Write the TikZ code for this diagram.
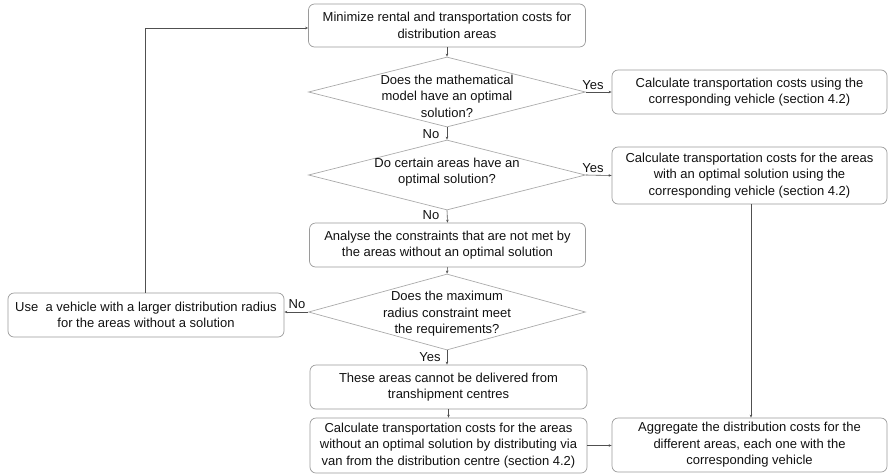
\documentclass[tikz,border=0pt]{standalone}
\usepackage{fontspec}
\setmainfont{Liberation Sans}
\usetikzlibrary{shapes.geometric,arrows.meta}
\definecolor{boxline}{HTML}{9A9A9A}
\definecolor{dialine}{HTML}{ABABAB}
\definecolor{arrline}{HTML}{505050}
\definecolor{txt}{HTML}{111111}
\begin{document}
\begin{tikzpicture}[x=1pt,y=-1pt,
  box/.style={draw=boxline,line width=0.7pt,rounded corners=6pt,align=center,
    font=\fontsize{13}{16.5}\selectfont,text=txt,inner sep=0pt},
  dia/.style={draw=dialine,line width=0.7pt,shape=diamond,inner sep=0pt,
    minimum width=277pt,minimum height=70pt},
  diatext/.style={align=center,font=\fontsize{13}{16.5}\selectfont,text=txt,inner sep=0pt},
  lbl/.style={font=\fontsize{13}{15}\selectfont,text=txt,inner sep=0pt},
  arr/.style={draw=arrline,line width=0.6pt,-{Stealth[length=3pt,width=2.5pt]}},
  ln/.style={draw=arrline,line width=0.6pt}]
\useasboundingbox (0,0) rectangle (888,475);
% boxes
\node[box,minimum width=277pt,minimum height=43pt] (b1) at (447,25.5)
  {Minimize rental and transportation costs for\\distribution areas};
\node[dia] (d1) at (447,92) {};
\node[diatext] (t1) at (447,96) {Does the mathematical\\model have an optimal\\solution?};
\node[box,minimum width=275pt,minimum height=44pt] (b2) at (749.5,92)
  {Calculate transportation costs using the\\corresponding vehicle (section 4.2)};
\node[dia] (d2) at (447,175) {};
\node[diatext] (t2) at (447,172) {Do certain areas have an\\optimal solution?};
\node[box,minimum width=275pt,minimum height=57pt] (b3) at (749.5,175.5)
  {Calculate transportation costs for the areas\\with an optimal solution using the\\corresponding vehicle (section 4.2)};
\node[box,minimum width=276pt,minimum height=44pt] (b4) at (447.5,245)
  {Analyse the constraints that are not met by\\the areas without an optimal solution};
\node[dia,minimum height=76pt] (d3) at (447,312) {};
\node[diatext] (t3) at (447,314) {Does the maximum\\radius constraint meet\\the requirements?};
\node[box,minimum width=276pt,minimum height=44pt] (b5) at (146,315)
  {Use\ \ a vehicle with a larger distribution radius\\for the areas without a solution};
\node[box,minimum width=277pt,minimum height=44pt] (b6) at (448.5,387)
  {These areas cannot be delivered from\\transhipment centres};
\node[box,minimum width=277pt,minimum height=55pt] (b7) at (448.5,445.5)
  {Calculate transportation costs for the areas\\without an optimal solution by distributing via\\van from the distribution centre (section 4.2)};
\node[box,minimum width=275pt,minimum height=54pt] (b8) at (749.5,445)
  {Aggregate the distribution costs for the\\different areas, each one with the\\corresponding vehicle};
% labels
\node[lbl] (y1) at (593,85) {Yes};
\node[lbl] (n1) at (431,134) {No};
\node[lbl] (y2) at (593,168) {Yes};
\node[lbl] (n2) at (431,215) {No};
\node[lbl] (n3) at (297,304) {No};
\node[lbl] (y3) at (430,357) {Yes};
% connectors
\draw[arr] (b1.south) -- (d1.north);
\draw[arr] (d1.east) -- (b2.west);
\draw[arr] (d1.south) -- (d2.north);
\draw[arr] (d2.east) -- (b3.west);
\draw[arr] (d2.south) -- (b4.north);
\draw[arr] (b4.south) -- (d3.north);
\draw[arr] (d3.west) -- (b5.east |- d3.west);
\coordinate (c1) at (145,28);
\draw[arr] (b5.north -| c1) -- (c1) -- (b1.west |- c1);
\draw[arr] (d3.south) -- (b6.north -| d3.south);
\draw[arr] (b6.south) -- (b7.north);
\draw[arr] (b7.east) -- (b8.west |- b7.east);
\coordinate (c2) at (751,0);
\draw[arr] (b3.south -| c2) -- (b8.north -| c2);
\end{tikzpicture}
\end{document}
